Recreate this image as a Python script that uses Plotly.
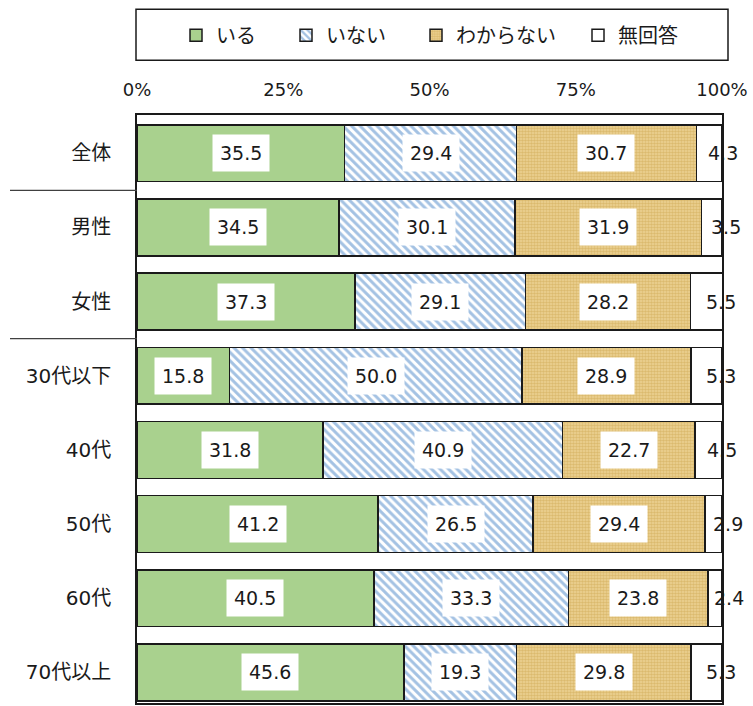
import plotly.graph_objects as go

categories = ["全体", "男性", "女性", "30代以下", "40代", "50代", "60代", "70代以上"]
series_names = ["いる", "いない", "わからない", "無回答"]
iru = [35.5, 34.5, 37.3, 15.8, 31.8, 41.2, 40.5, 45.6]
inai = [29.4, 30.1, 29.1, 50.0, 40.9, 26.5, 33.3, 19.3]
wakaranai = [30.7, 31.9, 28.2, 28.9, 22.7, 29.4, 23.8, 29.8]
mukaito = [4.3, 3.5, 5.5, 5.3, 4.5, 2.9, 2.4, 5.3]
x_ticks = [0, 25, 50, 75, 100]
x_tick_labels = ["0%", "25%", "50%", "75%", "100%"]

series_values = [iru, inai, wakaranai, mukaito]

FONT = "DejaVu Sans, Noto Sans CJK JP, sans-serif"
W, H = 753, 706
ML, MR, MT, MB = 137, 31, 115, 1
PW = W - ML - MR
PH = H - MT - MB

markers = [
    dict(color="#A9D18E", line=dict(color="#1a1a1a", width=1.5)),
    dict(color="#ffffff", line=dict(color="#1a1a1a", width=1.5),
         pattern=dict(shape="\\", fgcolor="#4A86C8", bgcolor="#ffffff", size=6, solidity=0.5)),
    dict(color="#DDBE73", line=dict(color="#1a1a1a", width=1.5),
         pattern=dict(shape=".", fgcolor="#C9A047", bgcolor="#EDD495", size=3, solidity=0.6)),
    dict(color="#ffffff", line=dict(color="#1a1a1a", width=1.5)),
]

legend_ids = ["legend", "legend2", "legend3", "legend4"]
legend_sq_px = [190, 300, 430, 592]

fig = go.Figure()
for name, vals, mk, lid in zip(series_names, series_values, markers, legend_ids):
    fig.add_trace(go.Bar(
        y=categories, x=vals, name=name, orientation="h",
        marker=mk, width=0.766, legend=lid, hoverinfo="skip",
    ))

# data labels
annotations = []
cum = [0.0] * len(categories)
for si, vals in enumerate(series_values):
    for ci, v in enumerate(vals):
        center = cum[ci] + v / 2
        cum[ci] += v
        if si < 3:
            annotations.append(dict(
                x=center, y=categories[ci], xref="x", yref="y", text=f"{v:.1f}",
                showarrow=False, bgcolor="#ffffff", borderpad=7,
                font=dict(family=FONT, size=19, color="#1a1a1a"),
            ))
        else:
            annotations.append(dict(
                x=center, y=categories[ci], xref="x", yref="y", text=f"{v:.1f}",
                showarrow=False, xshift=14,
                font=dict(family=FONT, size=19, color="#1a1a1a"),
            ))

shapes = [
    # legend frame
    dict(type="rect", xref="paper", yref="paper", x0=(136 - ML) / PW, x1=(728 - ML) / PW,
         y0=1 + (MT - 60) / PH, y1=1 + (MT - 9) / PH,
         line=dict(color="#1a1a1a", width=1.5), fillcolor="rgba(0,0,0,0)"),
    # group separators
    dict(type="line", xref="paper", yref="y", x0=(10 - ML) / PW, x1=0, y0=0.5, y1=0.5,
         line=dict(color="#404040", width=1.2)),
    dict(type="line", xref="paper", yref="y", x0=(10 - ML) / PW, x1=0, y0=2.5, y1=2.5,
         line=dict(color="#404040", width=1.2)),
]

layout_legends = {}
for lid, sq in zip(legend_ids, legend_sq_px):
    layout_legends[lid] = dict(
        x=(sq - 14 - ML) / PW, xanchor="left",
        y=1 + (MT - 35) / PH, yanchor="middle",
        orientation="h", bgcolor="rgba(0,0,0,0)", borderwidth=0,
        font=dict(family=FONT, size=20, color="#1a1a1a"),
    )

fig.update_layout(
    width=W, height=H,
    margin=dict(l=ML, r=MR, t=MT, b=MB),
    barmode="stack",
    plot_bgcolor="#ffffff", paper_bgcolor="#ffffff",
    font=dict(family=FONT, color="#1a1a1a"),
    xaxis=dict(
        side="top", range=[0, 100], tickvals=x_ticks, ticktext=x_tick_labels,
        showgrid=False, zeroline=False, showline=True, mirror=True,
        linecolor="#1a1a1a", linewidth=1.5, ticks="", ticklabelstandoff=10,
        tickfont=dict(family=FONT, size=18, color="#1a1a1a"),
    ),
    yaxis=dict(
        type="category", categoryorder="array", categoryarray=categories,
        range=[7.413, -0.517], showgrid=False, zeroline=False,
        showline=True, mirror=True, linecolor="#1a1a1a", linewidth=1.5,
        ticks="", ticklabelstandoff=20,
        tickfont=dict(family=FONT, size=20, color="#1a1a1a"),
    ),
    annotations=annotations,
    shapes=shapes,
    showlegend=True,
    **layout_legends,
)

fig.write_html("out.html")
